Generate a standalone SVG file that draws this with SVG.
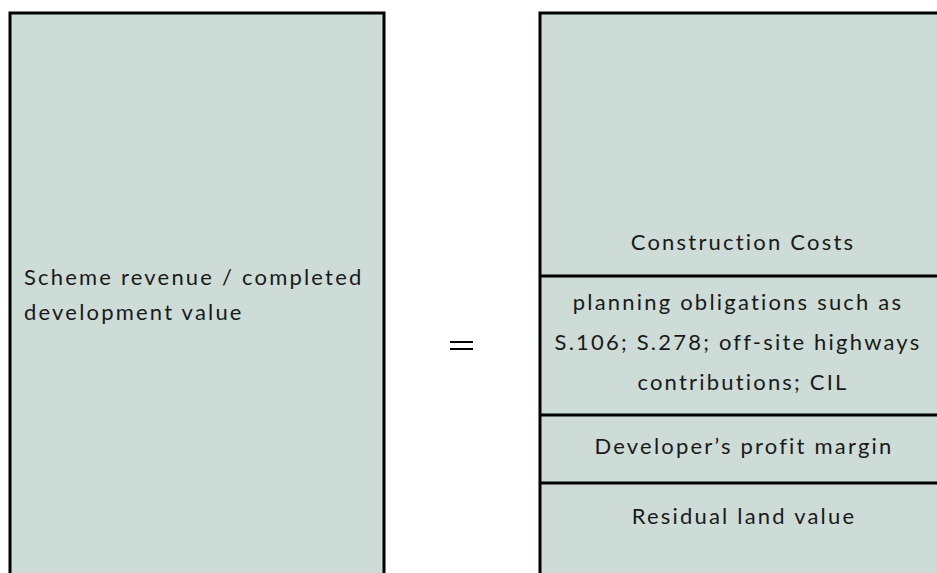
<svg xmlns="http://www.w3.org/2000/svg" width="937" height="573" viewBox="0 0 937 573">
<style>
.box{fill:#cddcd6;stroke:#000;stroke-width:3}
.div{stroke:#000;stroke-width:3}
text{font-family:"Lato","Liberation Sans",sans-serif;font-size:22px;letter-spacing:2.2px;fill:#1a1a1a}
.c{text-anchor:middle}
</style>
<rect x="0" y="0" width="937" height="573" fill="#fff"/>
<g id="left">
<path class="box" d="M10,580 V13 H384 V580"/>
<text x="24" y="285">Scheme revenue / completed</text>
<text x="24" y="320">development value</text>
</g>
<g id="equals">
<rect x="450" y="341" width="23" height="2" fill="#000"/>
<rect x="450" y="348" width="23" height="2" fill="#000"/>
</g>
<g id="right">
<path class="box" d="M540,580 V13 H945 V580"/>
<g id="construction"><text class="c" x="743" y="250">Construction Costs</text></g>
<g id="planning">
<text class="c" x="738" y="310">planning obligations such as</text>
<text class="c" x="738" y="350">S.106; S.278; off-site highways</text>
<text class="c" x="743" y="390">contributions; CIL</text>
</g>
<g id="profit"><text class="c" x="744" y="454">Developer’s profit margin</text></g>
<g id="residual"><text class="c" x="744" y="524">Residual land value</text></g>
</g>
<g id="connectors">
<line class="div" x1="540" y1="276" x2="945" y2="276"/>
<line class="div" x1="540" y1="415" x2="945" y2="415"/>
<line class="div" x1="540" y1="483" x2="945" y2="483"/>
</g>
</svg>
